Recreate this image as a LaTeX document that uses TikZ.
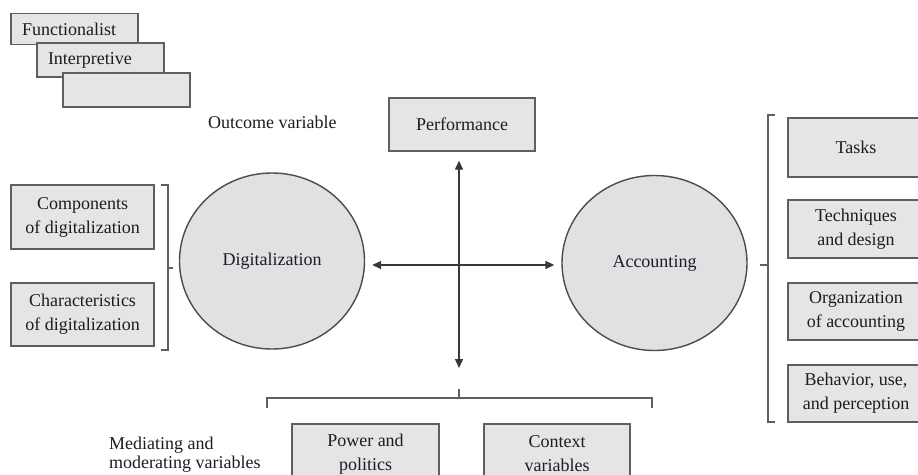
\documentclass[tikz,border=0pt]{standalone}
\usepackage{fontspec}
\setmainfont{Liberation Serif}
\usetikzlibrary{arrows.meta,shapes.geometric}
\definecolor{boxfill}{RGB}{229,229,229}
\definecolor{ellfill}{RGB}{225,225,227}
\definecolor{boxline}{RGB}{95,95,95}
\definecolor{arrcol}{RGB}{55,55,60}
\definecolor{txt}{RGB}{28,28,34}
\tikzset{
  box/.style={draw=boxline, fill=boxfill, line width=1.4pt, rectangle, inner sep=0pt,
    align=center, text=txt, font=\fontsize{18}{24}\selectfont},
  ell/.style={draw=boxline!80!black, fill=ellfill, line width=1.4pt, ellipse, inner sep=0pt,
    text=txt, font=\fontsize{18}{24}\selectfont},
  lbl/.style={text=txt, font=\fontsize{18}{19}\selectfont, inner sep=0pt, align=left},
  brk/.style={draw=boxline, line width=1.1pt},
  arr/.style={draw=arrcol, line width=1.4pt, {Triangle[length=9pt,width=8pt]}-{Triangle[length=9pt,width=8pt]}}
}
\begin{document}
\begin{tikzpicture}[x=1pt,y=-1pt]
\clip (0,0) rectangle (918,474);
\fill[white] (0,0) rectangle (918,474);
% paradigm boxes
\node[box, minimum width=127pt, minimum height=31pt, text width=115pt, align=left] (f1) at (74.5,29) {\hspace{5pt}Functionalist};
\node[box, minimum width=127pt, minimum height=34pt, text width=115pt, align=left] (f2) at (100.5,60) {\hspace{5pt}Interpretive};
\node[box, minimum width=127pt, minimum height=34pt] (f3) at (126.5,90) {};
% outcome
\node[lbl, anchor=west] (outc) at (208,122) {Outcome variable};
\node[box, minimum width=146pt, minimum height=53pt] (perf) at (462,124.5) {Performance};
% ellipses
\node[ell, minimum width=185pt, minimum height=176pt] (dig) at (272,261) {Digitalization};
\node[ell, minimum width=185pt, minimum height=175pt] (acc) at (654.5,263) {Accounting};
% left boxes
\node[box, minimum width=143pt, minimum height=64pt] (comp) at (82.5,217) {Components\\of digitalization};
\node[box, minimum width=143pt, minimum height=63pt] (char) at (82.5,314.5) {Characteristics\\of digitalization};
% right boxes
\node[box, minimum width=136pt, minimum height=59pt] (tasks) at (856,147.5) {Tasks};
\node[box, minimum width=136pt, minimum height=58pt] (tech) at (856,229) {Techniques\\and design};
\node[box, minimum width=136pt, minimum height=57pt] (org) at (856,311.5) {Organization\\of accounting};
\node[box, minimum width=136pt, minimum height=57pt] (beh) at (856,393.5) {Behavior, use,\\and perception};
% bottom boxes
\node[box, minimum width=147pt, minimum height=60pt] (pow) at (365.5,454) {Power and\\politics};
\node[box, minimum width=146pt, minimum height=60pt] (ctx) at (557,454) {Context\\variables};
\node[lbl, anchor=west] (med) at (109,455) {Mediating and\\moderating variables};
% brackets
\draw[brk] (161,185) -- (168,185) -- (168,350) -- (161,350);
\draw[brk] (168,268) -- (173,268);
\draw[brk] (775,115) -- (768,115) -- (768,422) -- (775,422);
\draw[brk] (768,265) -- (760,265);
\draw[brk] (267,408) -- (267,398) -- (652,398) -- (652,408);
\coordinate (btip) at (459,389);
\draw[brk] (459,398) -- (btip);
% arrows
\draw[arr, shorten <=7pt, shorten >=7pt] (dig.east |- 0,265) -- (acc.west |- 0,265);
\draw[arr, shorten <=9pt, shorten >=21pt] (perf.south -| btip) -- (btip);
\end{tikzpicture}
\end{document}
